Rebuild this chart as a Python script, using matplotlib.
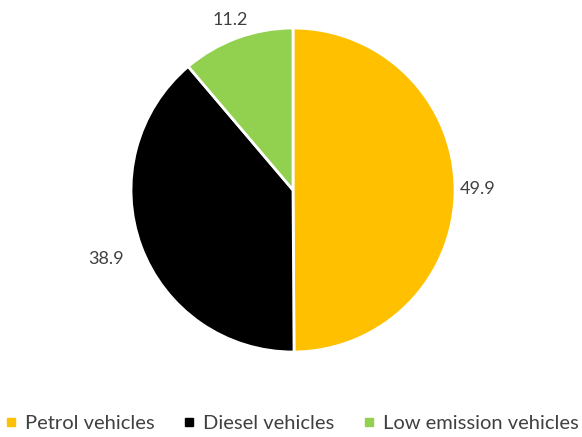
import numpy as np
import matplotlib.pyplot as plt
from matplotlib.lines import Line2D

categories = ["Petrol vehicles", "Diesel vehicles", "Low emission vehicles"]
values = [49.9, 38.9, 11.2]
colors = ["#FFC000", "#000000", "#92D050"]
label_dist = [1.14, 1.23, 1.12]

plt.rcParams['font.family'] = ['Lato', 'DejaVu Sans']

fig = plt.figure(figsize=(5.82, 4.37), dpi=100)
ax = fig.add_axes([0.2251, 0.1945, 0.5567, 0.7414])

wedges, texts = ax.pie(values, colors=colors, startangle=90, counterclock=False,
                       wedgeprops=dict(edgecolor="white", linewidth=2))
for w, v, d in zip(wedges, values, label_dist):
    ang = np.deg2rad((w.theta1 + w.theta2) / 2)
    ax.text(d * np.cos(ang), d * np.sin(ang), f"{v:.1f}", ha="center", va="center",
            fontsize=13, color="#404040")
ax.set_xlim(-1, 1)
ax.set_ylim(-1, 1)
ax.set_aspect("equal")

handles = [Line2D([], [], marker="s", linestyle="", color=c, markersize=6) for c in colors]
fig.legend(handles, categories, loc="center", bbox_to_anchor=(0.5, 0.03), ncol=3,
           frameon=False, fontsize=14.5, handletextpad=0.3, columnspacing=1.3,
           handlelength=0.8, labelcolor="#404040")

fig.savefig("out.png", dpi=100)
